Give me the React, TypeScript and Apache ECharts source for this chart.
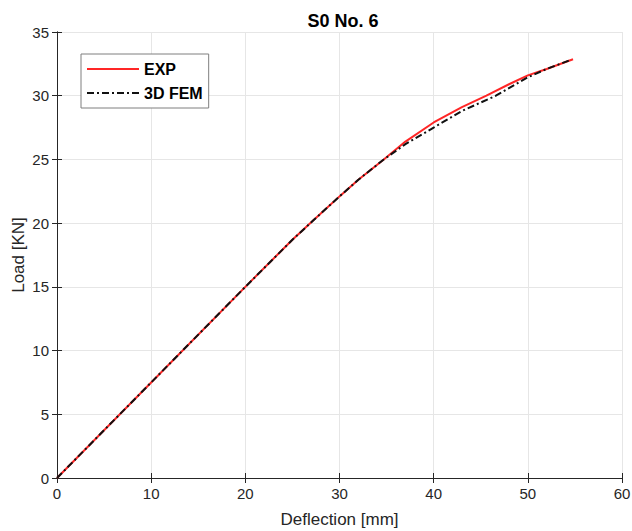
import React, { useEffect, useRef } from "react";
import * as echarts from "echarts";

const title = "S0 No. 6";
const xTicks = [0, 10, 20, 30, 40, 50, 60];
const yTicks = [0, 5, 10, 15, 20, 25, 30, 35];
const expData: [number, number][] = [
  [0, 0], [10, 7.5], [20, 15], [25, 18.7], [27.2, 20.2], [30, 22.1], [32, 23.4],
  [34.7, 25.0], [37, 26.4], [40, 27.9], [43, 29.1], [45.6, 30.0], [48, 30.9],
  [50, 31.6], [52, 32.1], [54.8, 32.86],
];
const femData: [number, number][] = [
  [0, 0], [10, 7.5], [20, 15], [25, 18.7], [27.2, 20.2], [30, 22.1], [32, 23.4],
  [34.7, 25.0], [37, 26.2], [40, 27.5], [43, 28.8], [46.6, 30.0], [50, 31.45],
  [52, 32.1], [54.5, 32.8],
];

export default function App() {
  const ref = useRef<HTMLDivElement>(null);
  useEffect(() => {
    const chart = echarts.init(ref.current!, null, { renderer: "svg" });
    const font = "Liberation Sans, Arial, sans-serif";
    const axisCommon = {
      axisLine: { show: true, lineStyle: { color: "#262626", width: 1 } },
      axisTick: { show: true, inside: true, length: 5, lineStyle: { color: "#262626" } },
    };
    chart.setOption({
      animation: false,
      backgroundColor: "#fff",
      title: {
        text: title,
        left: 338,
        textAlign: "center",
        top: 7,
        textStyle: { fontFamily: font, fontSize: 18, fontWeight: "bold", color: "#000" },
      },
      grid: { left: 57, right: 10, top: 32, bottom: 53, containLabel: false, outerBoundsMode: "none" },
      legend: {
        orient: "vertical",
        left: 81,
        top: 54,
        padding: [7, 6, 7, 5],
        itemGap: 8,
        itemWidth: 52,
        itemHeight: 14,
        backgroundColor: "#fff",
        borderColor: "#7f7f7f",
        borderWidth: 1,
        itemStyle: { opacity: 0 },
        textStyle: { fontFamily: font, fontSize: 16, fontWeight: "bold", color: "#000" },
        data: ["EXP", "3D FEM"],
      },
      xAxis: [
        {
          type: "value",
          min: xTicks[0],
          max: xTicks[xTicks.length - 1],
          interval: 10,
          name: "Deflection [mm]",
          nameLocation: "middle",
          nameGap: 33,
          nameMoveOverlap: false,
          nameTextStyle: { fontFamily: font, fontSize: 17, color: "#262626" },
          axisLabel: { fontFamily: font, fontSize: 15, color: "#262626", margin: 8 },
          splitLine: { show: true, lineStyle: { color: "#e6e6e6" } },
          ...axisCommon,
        },
        {
          type: "value",
          position: "top",
          min: xTicks[0],
          max: xTicks[xTicks.length - 1],
          interval: 10,
          axisLabel: { show: false },
          splitLine: { show: false },
          ...axisCommon,
        },
      ],
      yAxis: [
        {
          type: "value",
          min: yTicks[0],
          max: yTicks[yTicks.length - 1],
          interval: 5,
          name: "Load [KN]",
          nameLocation: "middle",
          nameGap: 30,
          nameMoveOverlap: false,
          nameTextStyle: { fontFamily: font, fontSize: 17, color: "#262626" },
          axisLabel: { fontFamily: font, fontSize: 15, color: "#262626", margin: 8 },
          splitLine: { show: true, lineStyle: { color: "#e6e6e6" } },
          ...axisCommon,
        },
        {
          type: "value",
          position: "right",
          min: yTicks[0],
          max: yTicks[yTicks.length - 1],
          interval: 5,
          axisLabel: { show: false },
          splitLine: { show: false },
          ...axisCommon,
        },
      ],
      series: [
        {
          name: "EXP",
          type: "line",
          data: expData,
          showSymbol: false,
          symbol: "none",
          lineStyle: { color: "#ff2626", width: 2 },
          itemStyle: { color: "#ff2626" },
          z: 2,
        },
        {
          name: "3D FEM",
          type: "line",
          data: femData,
          showSymbol: false,
          symbol: "none",
          lineStyle: { color: "#111", width: 2, type: [7, 3, 2, 3] },
          itemStyle: { color: "#111" },
          z: 3,
        },
      ],
    });
    return () => chart.dispose();
  }, []);
  return <div ref={ref} style={{ width: 632, height: 531, position: "absolute", left: 0, top: 0 }} />;
}
